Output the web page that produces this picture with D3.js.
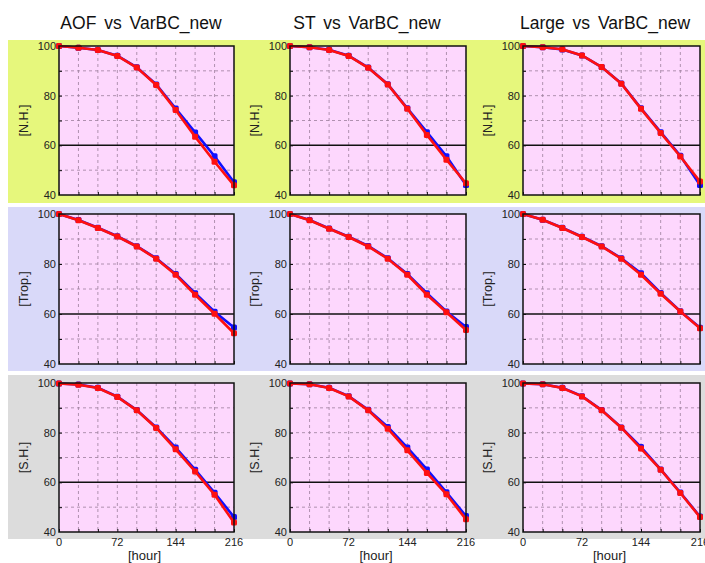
<!DOCTYPE html>
<html>
<head>
<meta charset="utf-8">
<script src="https://cdn.jsdelivr.net/npm/d3@7"></script>
<style>
  body { margin: 0; background: #fff; }
  svg { display: block; font-family: "Liberation Sans", Arial, sans-serif; }
</style>
</head>
<body>
<div id="chart"></div>
<script>

// forecast hours
let hours = [0, 24, 48, 72, 96, 120, 144, 168, 192, 216];
let xTicks = [0, 72, 144, 216];
let yTicks = [40, 60, 80, 100];
let titles = ["AOF vs VarBC_new", "ST vs VarBC_new", "Large vs VarBC_new"];
let regions = ["[N.H.]", "[Trop.]", "[S.H.]"];

// N.H.
let aofNhBlue   = [100, 99.3, 98.4, 96.1, 91.4, 84.5, 74.8, 65.2, 55.6, 45.1];
let aofNhRed    = [100, 99.3, 98.4, 96.0, 91.3, 84.3, 74.2, 63.5, 53.4, 43.9];
let stNhBlue    = [100, 99.5, 98.5, 96.1, 91.3, 84.6, 74.9, 65.3, 55.6, 44.0];
let stNhRed     = [100, 99.5, 98.4, 96.0, 91.2, 84.5, 74.7, 64.2, 54.2, 44.7];
let largeNhBlue = [100, 99.5, 98.6, 96.2, 91.5, 84.9, 74.9, 65.3, 55.8, 44.0];
let largeNhRed  = [100, 99.5, 98.7, 96.2, 91.5, 84.8, 74.7, 65.0, 55.5, 45.4];

// Trop.
let aofTrBlue   = [100, 97.6, 94.5, 91.1, 87.1, 82.3, 76.0, 68.3, 60.9, 54.6];
let aofTrRed    = [100, 97.5, 94.4, 91.0, 87.0, 82.1, 75.7, 67.7, 60.1, 52.3];
let stTrBlue    = [100, 97.6, 94.2, 90.9, 87.2, 82.3, 76.0, 68.3, 61.0, 54.8];
let stTrRed     = [100, 97.5, 94.1, 90.8, 87.0, 82.1, 75.7, 67.7, 60.7, 53.6];
let largeTrBlue = [100, 97.7, 94.5, 90.9, 87.1, 82.3, 76.3, 68.4, 61.1, 54.5];
let largeTrRed  = [100, 97.7, 94.4, 90.8, 87.0, 82.1, 75.7, 68.1, 61.0, 54.3];

// S.H.
let aofShBlue   = [99.8, 99.4, 98.1, 94.5, 89.1, 82.1, 74.0, 65.1, 55.8, 46.0];
let aofShRed    = [99.8, 99.3, 98.0, 94.4, 89.0, 81.9, 73.3, 64.4, 55.0, 43.8];
let stShBlue    = [99.8, 99.5, 98.1, 94.7, 89.2, 82.3, 74.0, 65.2, 56.0, 46.4];
let stShRed     = [99.8, 99.5, 98.0, 94.6, 89.0, 81.6, 72.9, 63.8, 55.2, 45.1];
let largeShBlue = [99.8, 99.5, 98.1, 94.7, 89.1, 82.1, 74.2, 65.2, 55.9, 46.2];
let largeShRed  = [99.8, 99.5, 98.0, 94.6, 89.0, 82.0, 73.6, 65.1, 55.7, 46.0];

let panelData = [
  [[aofNhBlue, aofNhRed], [stNhBlue, stNhRed], [largeNhBlue, largeNhRed]],
  [[aofTrBlue, aofTrRed], [stTrBlue, stTrRed], [largeTrBlue, largeTrRed]],
  [[aofShBlue, aofShRed], [stShBlue, stShRed], [largeShBlue, largeShRed]]
];


let W = 705, H = 563;
let colX = [[59, 234], [290, 466], [523, 700]];
let rowY = [[46, 195], [214, 364], [383, 532]];
let bands = [[40, 203, "#e6f77c"], [207, 371, "#d9d9f9"], [375, 539, "#dcdcdc"]];
let titleX = [141, 367, 605];
let seriesColors = ["#1010ff", "#ff1010"];

let svg = d3.select("#chart")
    .append("svg")
    .attr("width", W)
    .attr("height", H);

// row background bands
svg.selectAll("rect.band")
  .data(bands)
  .enter().append("rect")
    .attr("class", "band")
    .attr("x", 8).attr("y", d => d[0])
    .attr("width", W - 8).attr("height", d => d[1] - d[0])
    .attr("fill", d => d[2]);

// column titles
svg.selectAll("text.title")
  .data(titles)
  .enter().append("text")
    .attr("class", "title")
    .attr("x", (d, i) => titleX[i])
    .attr("y", 29)
    .attr("text-anchor", "middle")
    .attr("font-size", 17.5)
    .attr("word-spacing", 3)
    .attr("fill", "#111")
    .text(d => d);


for (let r = 0; r < 3; r++) {
  for (let c = 0; c < 3; c++) {
    drawPanel(r, c);
  }
}


function drawPanel (r, c) {
  let x = d3.scaleLinear().domain([0, 216]).range(colX[c]);
  let y = d3.scaleLinear().domain([40, 100]).range([rowY[r][1], rowY[r][0]]);
  let g = svg.append("g");

  g.append("rect")
    .attr("x", x(0)).attr("y", y(100))
    .attr("width", x(216) - x(0)).attr("height", y(40) - y(100))
    .attr("fill", "#fdd7fd");

  // dashed grid
  let grid = g.append("g")
      .attr("stroke", "#9c7f9c")
      .attr("stroke-width", 0.8)
      .attr("stroke-dasharray", "3,3");
  grid.selectAll("line.v")
    .data(hours.slice(1, -1))
    .enter().append("line")
      .attr("x1", d => x(d)).attr("x2", d => x(d))
      .attr("y1", y(100)).attr("y2", y(40));
  grid.selectAll("line.h")
    .data([50, 70, 80, 90])
    .enter().append("line")
      .attr("y1", d => y(d)).attr("y2", d => y(d))
      .attr("x1", x(0)).attr("x2", x(216));

  g.append("line")
    .attr("x1", x(0)).attr("x2", x(216))
    .attr("y1", y(60)).attr("y2", y(60))
    .attr("stroke", "#111").attr("stroke-width", 1.5);

  // small inward ticks
  g.append("g")
    .attr("transform", `translate(0,${y(40)})`)
    .call(d3.axisBottom(x).tickValues(hours).tickSize(-3).tickFormat(""))
    .call(a => a.select(".domain").remove())
    .selectAll("line").attr("stroke", "#111");
  g.append("g")
    .attr("transform", `translate(${x(0)},0)`)
    .call(d3.axisLeft(y).tickValues([50, 60, 70, 80, 90]).tickSize(-3).tickFormat(""))
    .call(a => a.select(".domain").remove())
    .selectAll("line").attr("stroke", "#111");

  // y tick labels
  g.selectAll("text.ytick")
    .data(yTicks)
    .enter().append("text")
      .attr("class", "ytick")
      .attr("x", x(0) - 3)
      .attr("y", d => y(d) + 4)
      .attr("text-anchor", "end")
      .attr("font-size", 11)
      .attr("fill", "#222")
      .text(d => d);

  g.append("text")
    .attr("transform", `translate(${x(0) - 31},${(y(40) + y(100)) / 2}) rotate(-90)`)
    .attr("text-anchor", "middle")
    .attr("font-size", 12.5)
    .attr("fill", "#222")
    .text(regions[r]);

  // series
  let line = d3.line()
      .x((d, i) => x(hours[i]))
      .y(d => y(d));
  panelData[r][c].forEach((vals, k) => {
    g.append("path")
      .datum(vals)
      .attr("d", line)
      .attr("fill", "none")
      .attr("stroke", seriesColors[k])
      .attr("stroke-width", 2.6);
    g.selectAll("rect.pt" + k)
      .data(vals)
      .enter().append("rect")
        .attr("class", "pt" + k)
        .attr("x", (d, i) => x(hours[i]) - 3)
        .attr("y", d => y(d) - 3)
        .attr("width", 6).attr("height", 6)
        .attr("rx", 1.5)
        .attr("fill", seriesColors[k]);
  });

  g.append("rect")
    .attr("x", x(0)).attr("y", y(100))
    .attr("width", x(216) - x(0)).attr("height", y(40) - y(100))
    .attr("fill", "none")
    .attr("stroke", "#111")
    .attr("stroke-width", 1.5);

  // x labels only on the bottom row
  if (r === 2) {
    g.selectAll("text.xtick")
      .data(xTicks)
      .enter().append("text")
        .attr("class", "xtick")
        .attr("x", d => x(d))
        .attr("y", 546)
        .attr("text-anchor", "middle")
        .attr("font-size", 11)
        .attr("fill", "#222")
        .text(d => d);
    g.append("text")
      .attr("x", (x(0) + x(216)) / 2 - 2)
      .attr("y", 560)
      .attr("text-anchor", "middle")
      .attr("font-size", 13)
      .attr("fill", "#222")
      .text("[hour]");
  }
}

</script>
</body>
</html>
